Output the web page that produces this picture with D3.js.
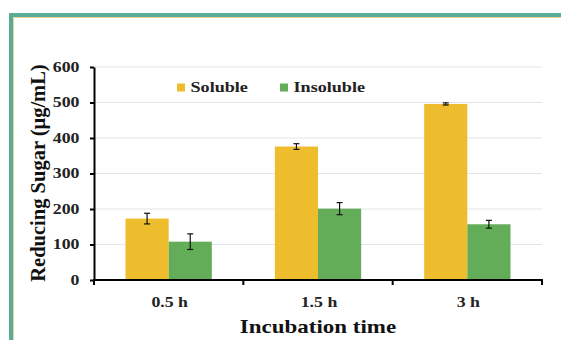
<!DOCTYPE html>
<html>
<head>
<meta charset="utf-8">
<script src="https://cdn.jsdelivr.net/npm/d3@7"></script>
<style>
  body { margin: 0; background: #fff; }
  svg { display: block; }
</style>
</head>
<body>
<svg id="chart" width="561" height="340"></svg>
<script>
// incubation time categories and the two fractions
const categories = ['0.5 h', '1.5 h', '3 h'];
const seriesNames = ['Soluble', 'Insoluble'];
const soluble = [173, 376, 496];
const solubleErr = [15, 8, 3];
const insoluble = [108, 201, 157];
const insolubleErr = [22, 17, 11];
const yTicks = [0, 100, 200, 300, 400, 500, 600];

const colors = { Soluble: '#eebd2e', Insoluble: '#63ad59' };
const font = '"Liberation Serif", "Times New Roman", serif';
const stretch = 1.27; // the source picture is widened horizontally

const svg = d3.select('#chart');

// teal page frame (top and left)
svg.append('rect').attr('x', 9).attr('y', 13).attr('width', 560).attr('height', 4).attr('fill', '#5aab98');
svg.append('rect').attr('x', 9).attr('y', 13).attr('width', 4).attr('height', 340).attr('fill', '#5aab98');
svg.append('line').attr('x1', 13).attr('x2', 561).attr('y1', 17.5).attr('y2', 17.5).attr('stroke', '#e2d69a').attr('stroke-width', 1);
svg.append('line').attr('x1', 13.5).attr('x2', 13.5).attr('y1', 17).attr('y2', 340).attr('stroke', '#e2d69a').attr('stroke-width', 1);

const margin = { left: 94, right: 19, top: 67, bottom: 60 };
const width = 561 - margin.left - margin.right;
const height = 340 - margin.top - margin.bottom;

const g = svg.append('g').attr('transform', `translate(${margin.left},${margin.top})`);

const x0 = d3.scaleBand().domain(categories).range([0, width]).paddingInner(0).paddingOuter(0);
const x1 = d3.scaleBand().domain(seriesNames).range([0, x0.bandwidth()]).paddingOuter(0.73).paddingInner(0);
const y = d3.scaleLinear().domain([0, 600]).range([height, 0]);

// gridlines
g.append('g')
  .selectAll('line')
  .data(yTicks.slice(1))
  .enter()
  .append('line')
  .attr('x1', 0)
  .attr('x2', width)
  .attr('y1', d => y(d))
  .attr('y2', d => y(d))
  .attr('stroke', '#e4e4ee')
  .attr('stroke-width', 1.2);

const rows = categories.map((c, i) => ({
  cat: c,
  vals: [
    { name: 'Soluble', v: soluble[i], e: solubleErr[i] },
    { name: 'Insoluble', v: insoluble[i], e: insolubleErr[i] }
  ]
}));

const groups = g.selectAll('.grp')
  .data(rows)
  .enter()
  .append('g')
  .attr('class', 'grp')
  .attr('transform', d => `translate(${x0(d.cat)},0)`);

groups.selectAll('rect')
  .data(d => d.vals)
  .enter()
  .append('rect')
  .attr('x', d => x1(d.name))
  .attr('y', d => y(d.v))
  .attr('width', x1.bandwidth())
  .attr('height', d => height - y(d.v))
  .attr('fill', d => colors[d.name]);

// error bars
const eb = groups.selectAll('.err')
  .data(d => d.vals)
  .enter()
  .append('g')
  .attr('class', 'err')
  .attr('stroke', '#111')
  .attr('stroke-width', 1.2);
eb.append('line')
  .attr('x1', d => x1(d.name) + x1.bandwidth() / 2)
  .attr('x2', d => x1(d.name) + x1.bandwidth() / 2)
  .attr('y1', d => y(d.v + d.e))
  .attr('y2', d => y(d.v - d.e));
[1, -1].forEach(s => {
  eb.append('line')
    .attr('x1', d => x1(d.name) + x1.bandwidth() / 2 - 3)
    .attr('x2', d => x1(d.name) + x1.bandwidth() / 2 + 3)
    .attr('y1', d => y(d.v + s * d.e))
    .attr('y2', d => y(d.v + s * d.e));
});

// y axis
const yAxis = g.append('g')
  .call(d3.axisLeft(y).tickValues(yTicks).tickSize(4).tickSizeOuter(0).tickPadding(10));
yAxis.select('.domain').attr('stroke', '#000').attr('stroke-width', 2);
yAxis.selectAll('.tick line').attr('stroke', '#000').attr('stroke-width', 2);
yAxis.selectAll('.tick text')
  .attr('x', -14.5 / stretch)
  .attr('transform', `scale(${stretch},1)`)
  .attr('font-family', font).attr('font-weight', 'bold').attr('font-size', 14).attr('fill', '#222');

// x axis with ticks at category boundaries
const xAxis = g.append('g').attr('transform', `translate(0,${height})`);
xAxis.append('line').attr('x1', -1).attr('x2', width + 1).attr('y1', 0).attr('y2', 0)
  .attr('stroke', '#000').attr('stroke-width', 2);
xAxis.selectAll('.xt')
  .data([0].concat(categories.map(c => x0(c) + x0.bandwidth())))
  .enter()
  .append('line')
  .attr('x1', d => d)
  .attr('x2', d => d)
  .attr('y1', 0).attr('y2', 5)
  .attr('stroke', '#000').attr('stroke-width', 2);
xAxis.selectAll('.xl')
  .data(categories)
  .enter()
  .append('text')
  .attr('transform', d => `translate(${x0(d) + x0.bandwidth() / 2 + 1},27) scale(${stretch},1)`)
  .attr('text-anchor', 'middle')
  .attr('font-family', font).attr('font-weight', 'bold').attr('font-size', 14).attr('fill', '#222')
  .text(d => d);

// axis titles
svg.append('text')
  .attr('transform', `translate(318,332.5) scale(1.21,1)`)
  .attr('text-anchor', 'middle')
  .attr('font-family', font).attr('font-weight', 'bold').attr('font-size', 19).attr('fill', '#111')
  .text('Incubation time');
svg.append('text')
  .attr('transform', 'translate(45,173) rotate(-90)')
  .attr('text-anchor', 'middle')
  .attr('font-family', font).attr('font-weight', 'bold').attr('font-size', 20.5).attr('fill', '#111')
  .text('Reducing Sugar (μg/mL)');

// legend
const legendX = [177, 280];
const legend = svg.selectAll('.lg')
  .data(seriesNames)
  .enter()
  .append('g')
  .attr('transform', (d, i) => `translate(${legendX[i]},83.5)`);
legend.append('rect').attr('width', 8).attr('height', 8).attr('fill', d => colors[d]);
legend.append('text')
  .attr('transform', `translate(13.5,8.5) scale(1.25,1)`)
  .attr('font-family', font).attr('font-weight', 'bold').attr('font-size', 14.5).attr('fill', '#222')
  .text(d => d);
</script>
</body>
</html>
